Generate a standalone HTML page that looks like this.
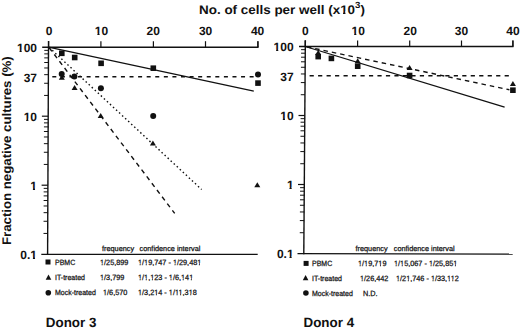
<!DOCTYPE html><html><head><meta charset="utf-8"><style>html,body{margin:0;padding:0;background:#fff;width:520px;height:328px;overflow:hidden;position:relative;}svg{display:block;position:absolute;left:0;top:0;}.o{position:absolute;width:0;height:0;transform-origin:0 0;}.i{position:absolute;top:0;line-height:0;white-space:pre;font-family:"Liberation Sans",sans-serif;color:#111;text-rendering:geometricPrecision;}.b{font-weight:bold;}.s{-webkit-text-stroke:0.25px #111;}</style></head><body>
<svg width="520" height="328" viewBox="0 0 520 328">
<line x1="42.2" y1="47.2" x2="258.5" y2="47.2" stroke="#111" stroke-width="1.4"/>
<line x1="48.53" y1="40.900000000000006" x2="47.60" y2="255.1" stroke="#111" stroke-width="1.4"/>
<line x1="41.300000000000004" y1="254.4" x2="257.7" y2="254.4" stroke="#111" stroke-width="1.4"/>
<line x1="48.60" y1="41.2" x2="48.60" y2="47.2" stroke="#111" stroke-width="1.2"/>
<line x1="100.90" y1="41.2" x2="100.90" y2="47.2" stroke="#111" stroke-width="1.2"/>
<line x1="153.40" y1="41.2" x2="153.40" y2="47.2" stroke="#111" stroke-width="1.2"/>
<line x1="205.50" y1="41.2" x2="205.50" y2="47.2" stroke="#111" stroke-width="1.2"/>
<line x1="257.90" y1="41.2" x2="257.90" y2="47.2" stroke="#111" stroke-width="1.2"/>
<line x1="257.90" y1="41.2" x2="257.90" y2="47.2" stroke="#111" stroke-width="1.3"/>
<line x1="44.09" y1="95.43" x2="48.29" y2="95.43" stroke="#111" stroke-width="1"/>
<line x1="44.14" y1="83.28" x2="48.34" y2="83.28" stroke="#111" stroke-width="1"/>
<line x1="44.18" y1="74.66" x2="48.38" y2="74.66" stroke="#111" stroke-width="1"/>
<line x1="44.21" y1="67.97" x2="48.41" y2="67.97" stroke="#111" stroke-width="1"/>
<line x1="44.23" y1="62.51" x2="48.43" y2="62.51" stroke="#111" stroke-width="1"/>
<line x1="44.25" y1="57.89" x2="48.45" y2="57.89" stroke="#111" stroke-width="1"/>
<line x1="44.27" y1="53.89" x2="48.47" y2="53.89" stroke="#111" stroke-width="1"/>
<line x1="44.29" y1="50.36" x2="48.49" y2="50.36" stroke="#111" stroke-width="1"/>
<line x1="43.79" y1="164.43" x2="47.99" y2="164.43" stroke="#111" stroke-width="1"/>
<line x1="43.84" y1="152.28" x2="48.04" y2="152.28" stroke="#111" stroke-width="1"/>
<line x1="43.88" y1="143.66" x2="48.08" y2="143.66" stroke="#111" stroke-width="1"/>
<line x1="43.91" y1="136.97" x2="48.11" y2="136.97" stroke="#111" stroke-width="1"/>
<line x1="43.93" y1="131.51" x2="48.13" y2="131.51" stroke="#111" stroke-width="1"/>
<line x1="43.95" y1="126.89" x2="48.15" y2="126.89" stroke="#111" stroke-width="1"/>
<line x1="43.97" y1="122.89" x2="48.17" y2="122.89" stroke="#111" stroke-width="1"/>
<line x1="43.99" y1="119.36" x2="48.19" y2="119.36" stroke="#111" stroke-width="1"/>
<line x1="43.49" y1="233.43" x2="47.69" y2="233.43" stroke="#111" stroke-width="1"/>
<line x1="43.54" y1="221.28" x2="47.74" y2="221.28" stroke="#111" stroke-width="1"/>
<line x1="43.58" y1="212.66" x2="47.78" y2="212.66" stroke="#111" stroke-width="1"/>
<line x1="43.61" y1="205.97" x2="47.81" y2="205.97" stroke="#111" stroke-width="1"/>
<line x1="43.63" y1="200.51" x2="47.83" y2="200.51" stroke="#111" stroke-width="1"/>
<line x1="43.65" y1="195.89" x2="47.85" y2="195.89" stroke="#111" stroke-width="1"/>
<line x1="43.67" y1="191.89" x2="47.87" y2="191.89" stroke="#111" stroke-width="1"/>
<line x1="43.69" y1="188.36" x2="47.89" y2="188.36" stroke="#111" stroke-width="1"/>
<line x1="41.90" y1="116.20" x2="48.20" y2="116.20" stroke="#111" stroke-width="1.2"/>
<line x1="41.60" y1="185.20" x2="47.90" y2="185.20" stroke="#111" stroke-width="1.2"/>
<line x1="299.0" y1="46.5" x2="513.5" y2="46.5" stroke="#111" stroke-width="1.4"/>
<line x1="305.35" y1="40.2" x2="303.80" y2="254.29999999999998" stroke="#111" stroke-width="1.4"/>
<line x1="297.5" y1="253.6" x2="512.6999999999999" y2="254.1" stroke="#111" stroke-width="1.4"/>
<line x1="305.20" y1="40.5" x2="305.20" y2="46.5" stroke="#111" stroke-width="1.2"/>
<line x1="357.60" y1="40.5" x2="357.60" y2="46.5" stroke="#111" stroke-width="1.2"/>
<line x1="409.70" y1="40.5" x2="409.70" y2="46.5" stroke="#111" stroke-width="1.2"/>
<line x1="461.50" y1="40.5" x2="461.50" y2="46.5" stroke="#111" stroke-width="1.2"/>
<line x1="512.90" y1="40.5" x2="512.90" y2="46.5" stroke="#111" stroke-width="1.2"/>
<line x1="512.90" y1="40.5" x2="512.90" y2="46.5" stroke="#111" stroke-width="1.3"/>
<line x1="300.75" y1="94.73" x2="304.95" y2="94.73" stroke="#111" stroke-width="1"/>
<line x1="300.84" y1="82.58" x2="305.04" y2="82.58" stroke="#111" stroke-width="1"/>
<line x1="300.90" y1="73.96" x2="305.10" y2="73.96" stroke="#111" stroke-width="1"/>
<line x1="300.95" y1="67.27" x2="305.15" y2="67.27" stroke="#111" stroke-width="1"/>
<line x1="300.99" y1="61.81" x2="305.19" y2="61.81" stroke="#111" stroke-width="1"/>
<line x1="301.02" y1="57.19" x2="305.22" y2="57.19" stroke="#111" stroke-width="1"/>
<line x1="301.05" y1="53.19" x2="305.25" y2="53.19" stroke="#111" stroke-width="1"/>
<line x1="301.08" y1="49.66" x2="305.28" y2="49.66" stroke="#111" stroke-width="1"/>
<line x1="300.25" y1="163.73" x2="304.45" y2="163.73" stroke="#111" stroke-width="1"/>
<line x1="300.34" y1="151.58" x2="304.54" y2="151.58" stroke="#111" stroke-width="1"/>
<line x1="300.40" y1="142.96" x2="304.60" y2="142.96" stroke="#111" stroke-width="1"/>
<line x1="300.45" y1="136.27" x2="304.65" y2="136.27" stroke="#111" stroke-width="1"/>
<line x1="300.49" y1="130.81" x2="304.69" y2="130.81" stroke="#111" stroke-width="1"/>
<line x1="300.52" y1="126.19" x2="304.72" y2="126.19" stroke="#111" stroke-width="1"/>
<line x1="300.55" y1="122.19" x2="304.75" y2="122.19" stroke="#111" stroke-width="1"/>
<line x1="300.58" y1="118.66" x2="304.78" y2="118.66" stroke="#111" stroke-width="1"/>
<line x1="299.75" y1="232.73" x2="303.95" y2="232.73" stroke="#111" stroke-width="1"/>
<line x1="299.84" y1="220.58" x2="304.04" y2="220.58" stroke="#111" stroke-width="1"/>
<line x1="299.90" y1="211.96" x2="304.10" y2="211.96" stroke="#111" stroke-width="1"/>
<line x1="299.95" y1="205.27" x2="304.15" y2="205.27" stroke="#111" stroke-width="1"/>
<line x1="299.99" y1="199.81" x2="304.19" y2="199.81" stroke="#111" stroke-width="1"/>
<line x1="300.02" y1="195.19" x2="304.22" y2="195.19" stroke="#111" stroke-width="1"/>
<line x1="300.05" y1="191.19" x2="304.25" y2="191.19" stroke="#111" stroke-width="1"/>
<line x1="300.08" y1="187.66" x2="304.28" y2="187.66" stroke="#111" stroke-width="1"/>
<line x1="298.50" y1="115.50" x2="304.80" y2="115.50" stroke="#111" stroke-width="1.2"/>
<line x1="298.00" y1="184.50" x2="304.30" y2="184.50" stroke="#111" stroke-width="1.2"/>
<line x1="48.5" y1="47.2" x2="253.8" y2="91.2" stroke="#111" stroke-width="1.3"/>
<line x1="48.8" y1="47.2" x2="174.7" y2="213.4" stroke="#111" stroke-width="1.4" stroke-dasharray="4.5 4" stroke-dashoffset="-0.65"/>
<line x1="48.9" y1="47.2" x2="201.6" y2="189.5" stroke="#111" stroke-width="1.4" stroke-dasharray="1.5 2.65" stroke-dashoffset="-0.45"/>
<line x1="52.3" y1="76.7" x2="254" y2="76.7" stroke="#111" stroke-width="1.4" stroke-dasharray="4 4.58"/>
<rect x="59.00" y="50.50" width="5.6" height="5.6" fill="#111"/>
<rect x="71.90" y="54.70" width="5.6" height="5.6" fill="#111"/>
<rect x="98.30" y="60.50" width="5.6" height="5.6" fill="#111"/>
<rect x="150.50" y="65.40" width="5.6" height="5.6" fill="#111"/>
<rect x="255.20" y="80.30" width="5.6" height="5.6" fill="#111"/>
<polygon points="61.80,74.70 64.80,79.70 58.80,79.70" fill="#111"/>
<polygon points="74.60,84.90 77.60,89.90 71.60,89.90" fill="#111"/>
<polygon points="100.70,112.90 103.70,117.90 97.70,117.90" fill="#111"/>
<polygon points="152.90,140.60 155.90,145.60 149.90,145.60" fill="#111"/>
<polygon points="257.30,182.20 260.30,187.20 254.30,187.20" fill="#111"/>
<circle cx="61.70" cy="74.10" r="3.0" fill="#111"/>
<circle cx="74.40" cy="76.40" r="3.0" fill="#111"/>
<circle cx="100.90" cy="88.30" r="3.0" fill="#111"/>
<circle cx="153.20" cy="116.00" r="3.0" fill="#111"/>
<circle cx="258.00" cy="74.40" r="3.0" fill="#111"/>
<line x1="305.2" y1="46.5" x2="504.6" y2="107.1" stroke="#111" stroke-width="1.3"/>
<line x1="305.2" y1="46.5" x2="509.4" y2="89.8" stroke="#111" stroke-width="1.4" stroke-dasharray="4.5 4" stroke-dashoffset="-1.7"/>
<line x1="309.6" y1="75.7" x2="509.4" y2="75.7" stroke="#111" stroke-width="1.4" stroke-dasharray="4.2 4.28"/>
<rect x="315.40" y="53.80" width="5.6" height="5.6" fill="#111"/>
<rect x="328.60" y="55.60" width="5.6" height="5.6" fill="#111"/>
<rect x="354.90" y="63.40" width="5.6" height="5.6" fill="#111"/>
<rect x="406.80" y="72.70" width="5.6" height="5.6" fill="#111"/>
<rect x="510.10" y="87.40" width="5.6" height="5.6" fill="#111"/>
<polygon points="318.20,50.00 321.20,55.00 315.20,55.00" fill="#111"/>
<polygon points="357.70,58.30 360.70,63.30 354.70,63.30" fill="#111"/>
<polygon points="409.60,65.00 412.60,70.00 406.60,70.00" fill="#111"/>
<polygon points="512.90,81.00 515.90,86.00 509.90,86.00" fill="#111"/>
<rect x="45.50" y="259.50" width="5.0" height="5.0" fill="#111"/>
<polygon points="48.50,274.38 51.30,279.72 45.70,279.72" fill="#111"/>
<circle cx="48.30" cy="292.70" r="2.8" fill="#111"/>
<rect x="303.60" y="260.90" width="5.0" height="5.0" fill="#111"/>
<polygon points="305.60,274.98 308.40,280.32 302.80,280.32" fill="#111"/>
<circle cx="305.90" cy="293.00" r="2.8" fill="#111"/>
</svg>
<div class="o" style="left:198.70px;top:13.50px;transform:scaleX(1.075);"><span class="i b" style="left:0;top:-3.83px;font-size:12.5px">No. of cells per well (x<span style="clip-path:polygon(0 0,100% 0,100% 8.62px,4.94px 8.62px,4.94px 100%,2.69px 100%,2.69px 8.62px,0 8.62px)">1</span>0<span style="font-size:9px;position:relative;top:-5.5px">3</span>)</span></div>
<div class="o" style="left:49.00px;top:35.00px;"><span class="i b" style="left:0;transform:translateX(-50%);top:-3.66px;font-size:12px">0</span></div>
<div class="o" style="left:101.50px;top:35.00px;"><span class="i b" style="left:0;transform:translateX(-50%);top:-3.66px;font-size:12px"><span style="clip-path:polygon(0 0,100% 0,100% 8.68px,4.74px 8.68px,4.74px 100%,2.58px 100%,2.58px 8.68px,0 8.68px)">1</span>0</span></div>
<div class="o" style="left:153.20px;top:35.00px;"><span class="i b" style="left:0;transform:translateX(-50%);top:-3.66px;font-size:12px">20</span></div>
<div class="o" style="left:205.60px;top:35.00px;"><span class="i b" style="left:0;transform:translateX(-50%);top:-3.66px;font-size:12px">30</span></div>
<div class="o" style="left:257.60px;top:35.00px;"><span class="i b" style="left:0;transform:translateX(-50%);top:-3.66px;font-size:12px">40</span></div>
<div class="o" style="left:305.40px;top:35.00px;"><span class="i b" style="left:0;transform:translateX(-50%);top:-3.66px;font-size:12px">0</span></div>
<div class="o" style="left:358.30px;top:35.00px;"><span class="i b" style="left:0;transform:translateX(-50%);top:-3.66px;font-size:12px"><span style="clip-path:polygon(0 0,100% 0,100% 8.68px,4.74px 8.68px,4.74px 100%,2.58px 100%,2.58px 8.68px,0 8.68px)">1</span>0</span></div>
<div class="o" style="left:410.20px;top:35.00px;"><span class="i b" style="left:0;transform:translateX(-50%);top:-3.66px;font-size:12px">20</span></div>
<div class="o" style="left:461.40px;top:35.00px;"><span class="i b" style="left:0;transform:translateX(-50%);top:-3.66px;font-size:12px">30</span></div>
<div class="o" style="left:512.90px;top:35.00px;"><span class="i b" style="left:0;transform:translateX(-50%);top:-3.66px;font-size:12px">40</span></div>
<div class="o" style="left:37.00px;top:51.70px;"><span class="i b" style="right:0;top:-3.66px;font-size:12px"><span style="clip-path:polygon(0 0,100% 0,100% 8.68px,4.74px 8.68px,4.74px 100%,2.58px 100%,2.58px 8.68px,0 8.68px)">1</span>00</span></div>
<div class="o" style="left:37.00px;top:81.49px;"><span class="i b" style="right:0;top:-3.66px;font-size:12px">37</span></div>
<div class="o" style="left:37.00px;top:120.70px;"><span class="i b" style="right:0;top:-3.66px;font-size:12px"><span style="clip-path:polygon(0 0,100% 0,100% 8.68px,4.74px 8.68px,4.74px 100%,2.58px 100%,2.58px 8.68px,0 8.68px)">1</span>0</span></div>
<div class="o" style="left:37.00px;top:189.70px;"><span class="i b" style="right:0;top:-3.66px;font-size:12px"><span style="clip-path:polygon(0 0,100% 0,100% 8.68px,4.74px 8.68px,4.74px 100%,2.58px 100%,2.58px 8.68px,0 8.68px)">1</span></span></div>
<div class="o" style="left:37.00px;top:258.70px;"><span class="i b" style="right:0;top:-3.66px;font-size:12px">0.<span style="clip-path:polygon(0 0,100% 0,100% 8.68px,4.74px 8.68px,4.74px 100%,2.58px 100%,2.58px 8.68px,0 8.68px)">1</span></span></div>
<div class="o" style="left:293.60px;top:51.00px;"><span class="i b" style="right:0;top:-3.66px;font-size:12px"><span style="clip-path:polygon(0 0,100% 0,100% 8.68px,4.74px 8.68px,4.74px 100%,2.58px 100%,2.58px 8.68px,0 8.68px)">1</span>00</span></div>
<div class="o" style="left:293.60px;top:80.79px;"><span class="i b" style="right:0;top:-3.66px;font-size:12px">37</span></div>
<div class="o" style="left:293.60px;top:120.00px;"><span class="i b" style="right:0;top:-3.66px;font-size:12px"><span style="clip-path:polygon(0 0,100% 0,100% 8.68px,4.74px 8.68px,4.74px 100%,2.58px 100%,2.58px 8.68px,0 8.68px)">1</span>0</span></div>
<div class="o" style="left:293.60px;top:189.00px;"><span class="i b" style="right:0;top:-3.66px;font-size:12px"><span style="clip-path:polygon(0 0,100% 0,100% 8.68px,4.74px 8.68px,4.74px 100%,2.58px 100%,2.58px 8.68px,0 8.68px)">1</span></span></div>
<div class="o" style="left:293.60px;top:258.00px;"><span class="i b" style="right:0;top:-3.66px;font-size:12px">0.<span style="clip-path:polygon(0 0,100% 0,100% 8.68px,4.74px 8.68px,4.74px 100%,2.58px 100%,2.58px 8.68px,0 8.68px)">1</span></span></div>
<div class="o" style="left:11.00px;top:245.40px;transform:rotate(-90deg) scaleX(1.057);"><span class="i b" style="left:0;top:-3.83px;font-size:12.5px">Fraction negative cultures (%)</span></div>
<div class="o" style="left:102.00px;top:251.50px;"><span class="i s" style="left:0;top:-2.03px;font-size:7.3px">frequency</span></div>
<div class="o" style="left:139.60px;top:251.50px;"><span class="i s" style="left:0;top:-2.03px;font-size:7.3px">confidence interval</span></div>
<div class="o" style="left:54.50px;top:264.70px;transform:scaleX(0.92);"><span class="i s" style="left:0;top:-2.13px;font-size:7.6px">PBMC</span></div>
<div class="o" style="left:99.50px;top:264.70px;transform:scaleX(0.96);"><span class="i s" style="left:0;top:-2.13px;font-size:7.6px"><span style="clip-path:polygon(0 0,100% 0,100% 5.47px,2.77px 5.47px,2.77px 100%,1.71px 100%,1.71px 5.47px,0 5.47px)">1</span>/25,899</span></div>
<div class="o" style="left:138.40px;top:264.70px;transform:scaleX(0.96);"><span class="i s" style="left:0;top:-2.13px;font-size:7.6px"><span style="clip-path:polygon(0 0,100% 0,100% 5.47px,2.77px 5.47px,2.77px 100%,1.71px 100%,1.71px 5.47px,0 5.47px)">1</span>/<span style="clip-path:polygon(0 0,100% 0,100% 5.47px,2.77px 5.47px,2.77px 100%,1.71px 100%,1.71px 5.47px,0 5.47px)">1</span>9,747 - <span style="clip-path:polygon(0 0,100% 0,100% 5.47px,2.77px 5.47px,2.77px 100%,1.71px 100%,1.71px 5.47px,0 5.47px)">1</span>/29,48<span style="clip-path:polygon(0 0,100% 0,100% 5.47px,2.77px 5.47px,2.77px 100%,1.71px 100%,1.71px 5.47px,0 5.47px)">1</span></span></div>
<div class="o" style="left:54.50px;top:279.70px;transform:scaleX(0.92);"><span class="i s" style="left:0;top:-2.13px;font-size:7.6px">IT-treated</span></div>
<div class="o" style="left:100.40px;top:279.70px;transform:scaleX(0.96);"><span class="i s" style="left:0;top:-2.13px;font-size:7.6px"><span style="clip-path:polygon(0 0,100% 0,100% 5.47px,2.77px 5.47px,2.77px 100%,1.71px 100%,1.71px 5.47px,0 5.47px)">1</span>/3,799</span></div>
<div class="o" style="left:138.40px;top:279.70px;transform:scaleX(0.96);"><span class="i s" style="left:0;top:-2.13px;font-size:7.6px"><span style="clip-path:polygon(0 0,100% 0,100% 5.47px,2.77px 5.47px,2.77px 100%,1.71px 100%,1.71px 5.47px,0 5.47px)">1</span>/<span style="clip-path:polygon(0 0,100% 0,100% 5.47px,2.77px 5.47px,2.77px 100%,1.71px 100%,1.71px 5.47px,0 5.47px)">1</span>,<span style="clip-path:polygon(0 0,100% 0,100% 5.47px,2.77px 5.47px,2.77px 100%,1.71px 100%,1.71px 5.47px,0 5.47px)">1</span>23 - <span style="clip-path:polygon(0 0,100% 0,100% 5.47px,2.77px 5.47px,2.77px 100%,1.71px 100%,1.71px 5.47px,0 5.47px)">1</span>/6,<span style="clip-path:polygon(0 0,100% 0,100% 5.47px,2.77px 5.47px,2.77px 100%,1.71px 100%,1.71px 5.47px,0 5.47px)">1</span>4<span style="clip-path:polygon(0 0,100% 0,100% 5.47px,2.77px 5.47px,2.77px 100%,1.71px 100%,1.71px 5.47px,0 5.47px)">1</span></span></div>
<div class="o" style="left:54.50px;top:295.40px;transform:scaleX(0.92);"><span class="i s" style="left:0;top:-2.13px;font-size:7.6px">Mock-treated</span></div>
<div class="o" style="left:102.60px;top:295.40px;transform:scaleX(0.96);"><span class="i s" style="left:0;top:-2.13px;font-size:7.6px"><span style="clip-path:polygon(0 0,100% 0,100% 5.47px,2.77px 5.47px,2.77px 100%,1.71px 100%,1.71px 5.47px,0 5.47px)">1</span>/6,570</span></div>
<div class="o" style="left:138.40px;top:295.40px;transform:scaleX(0.96);"><span class="i s" style="left:0;top:-2.13px;font-size:7.6px"><span style="clip-path:polygon(0 0,100% 0,100% 5.47px,2.77px 5.47px,2.77px 100%,1.71px 100%,1.71px 5.47px,0 5.47px)">1</span>/3,2<span style="clip-path:polygon(0 0,100% 0,100% 5.47px,2.77px 5.47px,2.77px 100%,1.71px 100%,1.71px 5.47px,0 5.47px)">1</span>4 - <span style="clip-path:polygon(0 0,100% 0,100% 5.47px,2.77px 5.47px,2.77px 100%,1.71px 100%,1.71px 5.47px,0 5.47px)">1</span>/<span style="clip-path:polygon(0 0,100% 0,100% 5.47px,2.77px 5.47px,2.77px 100%,1.71px 100%,1.71px 5.47px,0 5.47px)">1</span><span style="clip-path:polygon(0 0,100% 0,100% 5.47px,2.77px 5.47px,2.77px 100%,1.71px 100%,1.71px 5.47px,0 5.47px)">1</span>,3<span style="clip-path:polygon(0 0,100% 0,100% 5.47px,2.77px 5.47px,2.77px 100%,1.71px 100%,1.71px 5.47px,0 5.47px)">1</span>8</span></div>
<div class="o" style="left:355.50px;top:251.20px;"><span class="i s" style="left:0;top:-2.03px;font-size:7.3px">frequency</span></div>
<div class="o" style="left:393.75px;top:251.20px;"><span class="i s" style="left:0;top:-2.03px;font-size:7.3px">confidence interval</span></div>
<div class="o" style="left:311.70px;top:265.90px;transform:scaleX(0.92);"><span class="i s" style="left:0;top:-2.13px;font-size:7.6px">PBMC</span></div>
<div class="o" style="left:358.00px;top:265.90px;transform:scaleX(0.96);"><span class="i s" style="left:0;top:-2.13px;font-size:7.6px"><span style="clip-path:polygon(0 0,100% 0,100% 5.47px,2.77px 5.47px,2.77px 100%,1.71px 100%,1.71px 5.47px,0 5.47px)">1</span>/<span style="clip-path:polygon(0 0,100% 0,100% 5.47px,2.77px 5.47px,2.77px 100%,1.71px 100%,1.71px 5.47px,0 5.47px)">1</span>9,7<span style="clip-path:polygon(0 0,100% 0,100% 5.47px,2.77px 5.47px,2.77px 100%,1.71px 100%,1.71px 5.47px,0 5.47px)">1</span>9</span></div>
<div class="o" style="left:393.75px;top:265.90px;transform:scaleX(0.96);"><span class="i s" style="left:0;top:-2.13px;font-size:7.6px"><span style="clip-path:polygon(0 0,100% 0,100% 5.47px,2.77px 5.47px,2.77px 100%,1.71px 100%,1.71px 5.47px,0 5.47px)">1</span>/<span style="clip-path:polygon(0 0,100% 0,100% 5.47px,2.77px 5.47px,2.77px 100%,1.71px 100%,1.71px 5.47px,0 5.47px)">1</span>5,067 - <span style="clip-path:polygon(0 0,100% 0,100% 5.47px,2.77px 5.47px,2.77px 100%,1.71px 100%,1.71px 5.47px,0 5.47px)">1</span>/25,85<span style="clip-path:polygon(0 0,100% 0,100% 5.47px,2.77px 5.47px,2.77px 100%,1.71px 100%,1.71px 5.47px,0 5.47px)">1</span></span></div>
<div class="o" style="left:311.70px;top:280.90px;transform:scaleX(0.92);"><span class="i s" style="left:0;top:-2.13px;font-size:7.6px">IT-treated</span></div>
<div class="o" style="left:360.00px;top:280.90px;transform:scaleX(0.96);"><span class="i s" style="left:0;top:-2.13px;font-size:7.6px"><span style="clip-path:polygon(0 0,100% 0,100% 5.47px,2.77px 5.47px,2.77px 100%,1.71px 100%,1.71px 5.47px,0 5.47px)">1</span>/26,442</span></div>
<div class="o" style="left:396.25px;top:280.90px;transform:scaleX(0.96);"><span class="i s" style="left:0;top:-2.13px;font-size:7.6px"><span style="clip-path:polygon(0 0,100% 0,100% 5.47px,2.77px 5.47px,2.77px 100%,1.71px 100%,1.71px 5.47px,0 5.47px)">1</span>/2<span style="clip-path:polygon(0 0,100% 0,100% 5.47px,2.77px 5.47px,2.77px 100%,1.71px 100%,1.71px 5.47px,0 5.47px)">1</span>,746 - <span style="clip-path:polygon(0 0,100% 0,100% 5.47px,2.77px 5.47px,2.77px 100%,1.71px 100%,1.71px 5.47px,0 5.47px)">1</span>/33,<span style="clip-path:polygon(0 0,100% 0,100% 5.47px,2.77px 5.47px,2.77px 100%,1.71px 100%,1.71px 5.47px,0 5.47px)">1</span><span style="clip-path:polygon(0 0,100% 0,100% 5.47px,2.77px 5.47px,2.77px 100%,1.71px 100%,1.71px 5.47px,0 5.47px)">1</span>2</span></div>
<div class="o" style="left:311.70px;top:296.60px;transform:scaleX(0.92);"><span class="i s" style="left:0;top:-2.13px;font-size:7.6px">Mock-treated</span></div>
<div class="o" style="left:362.50px;top:296.60px;transform:scaleX(0.96);"><span class="i s" style="left:0;top:-2.13px;font-size:7.6px">N.D.</span></div>
<div class="o" style="left:45.80px;top:326.80px;"><span class="i b" style="left:0;top:-4.14px;font-size:13.4px">Donor 3</span></div>
<div class="o" style="left:303.50px;top:326.80px;"><span class="i b" style="left:0;top:-4.14px;font-size:13.4px">Donor 4</span></div>
</body></html>
